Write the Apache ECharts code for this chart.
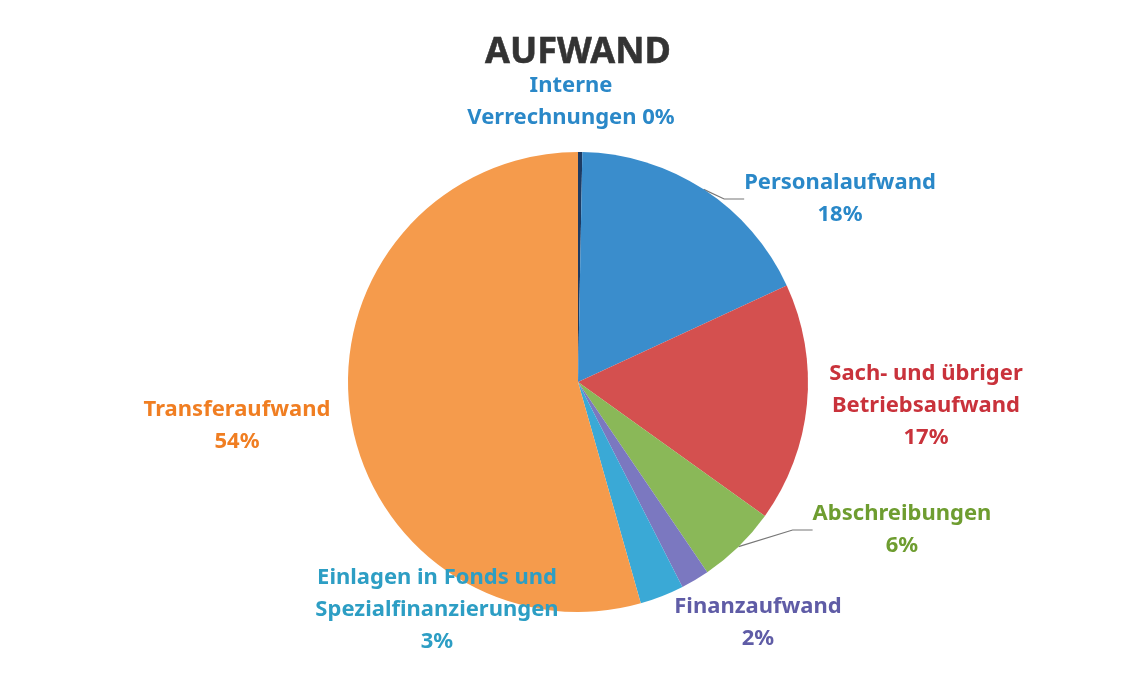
<!DOCTYPE html>
<html>
	<head>
		<meta charset="UTF-8">
		<title>Aufwand</title>
		<style type="text/css">
			* {
				margin: 0;
				padding: 0;
			}
			html, body {
				background-color: #fff;
			}
			#pie {
				width: 1141px;
				height: 677px;
			}
		</style>
	</head>
	<body>
		<div id="pie"></div>
	</body>
	<script src="https://cdn.jsdelivr.net/npm/echarts@6/dist/echarts.min.js" type="text/javascript" charset="utf-8"></script>
	<script type="text/javascript">
		// Daten (Anteile in %, aus dem Bild geschaetzt)
		var categories = ['Interne Verrechnungen', 'Personalaufwand', 'Sach- und übriger Betriebsaufwand', 'Abschreibungen', 'Finanzaufwand', 'Einlagen in Fonds und Spezialfinanzierungen', 'Transferaufwand'];
		var values = [0.3, 17.8, 16.8, 5.6, 2.0, 3.1, 54.4];
		// Beschriftung mit Zeilenumbruechen wie im Original
		var labelTexts = ['Interne\nVerrechnungen {d}%', 'Personalaufwand\n{d}%', 'Sach- und übriger\nBetriebsaufwand\n{d}%', 'Abschreibungen\n{d}%', 'Finanzaufwand\n{d}%', 'Einlagen in Fonds und\nSpezialfinanzierungen\n{d}%', 'Transferaufwand\n{d}%'];

		var sliceColors = ['#1d3b63', '#3a8dcc', '#d4504f', '#8ab858', '#7b78c0', '#3aa9d6', '#f59b4c'];
		var labelColors = ['#2a88c8', '#2a88c8', '#c9323b', '#6e9d30', '#5f5ca6', '#2d9ec4', '#f07e22'];
		// Position der Beschriftungen (Mittelpunkt)
		var labelPos = [[571, 102], [840, 199], [926, 406], [902, 530], [758, 623], [437, 610], [237, 426]];
		var withLine = [false, true, false, true, false, false, false];

		var myChartPie = echarts.init(document.getElementById('pie'));

		var data = [];
		for (var i = 0; i < categories.length; i++) {
			data.push({
				name: categories[i],
				value: values[i],
				itemStyle: { color: sliceColors[i] },
				label: { color: labelColors[i], formatter: labelTexts[i] },
				labelLine: { show: withLine[i] }
			});
		}

		var option = {
			animation: false,
			backgroundColor: '#fff',
			title: {
				text: 'AUFWAND',
				left: 573,
				top: 30,
				textAlign: 'center',
				textStyle: {
					fontFamily: 'Noto Sans',
					fontSize: 36,
					fontWeight: 'bold',
					color: '#333',
					textBorderColor: '#222',
					textBorderWidth: 0.5
				}
			},
			series: [{
				name: 'Aufwand',
				type: 'pie',
				center: [578, 382],
				radius: 230,
				startAngle: 90,
				percentPrecision: 0,
				data: data,
				label: {
					show: true,
					position: 'outside',
					fontFamily: 'Noto Sans',
					fontSize: 22,
					fontWeight: 'bold',
					lineHeight: 32,
					align: 'center'
				},
				labelLine: {
					length: 10,
					length2: 20,
					lineStyle: { color: '#777', width: 1.2 }
				},
				labelLayout: function (params) {
					var p = labelPos[params.dataIndex];
					return {
						x: p[0],
						y: p[1],
						align: 'center',
						verticalAlign: 'middle'
					};
				},
				itemStyle: { borderWidth: 0 }
			}]
		};

		myChartPie.setOption(option);
	</script>
</html>
